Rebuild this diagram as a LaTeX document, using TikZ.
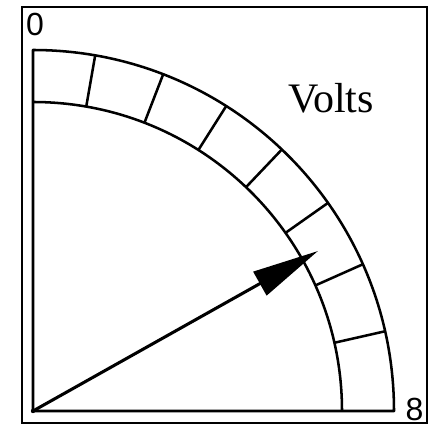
\documentclass[tikz,border=0pt]{standalone}
\usepackage{fontspec}
\setmainfont{Liberation Serif}
\newfontfamily\labsans{Liberation Sans}
\usetikzlibrary{arrows.meta}
\begin{document}
\begin{tikzpicture}[x=0.75pt,y=0.75pt,
  dial/.style={line width=1.9pt, line join=round},
  tickline/.style={line width=1.9pt},
  frameline/.style={line width=1.6pt, draw=black},
  needle/.style={line width=2.3pt, -{Triangle[length=50pt,width=20pt]}},
  scalelabel/.style={font=\labsans\fontsize{24}{24}\selectfont, inner sep=0pt},
  unitlabel/.style={font=\fontsize{31.5}{31.5}\selectfont, inner sep=0pt, anchor=base}]
\useasboundingbox (-33,-15) rectangle (400,411);
\draw[frameline] (-11,-12) rectangle (394,404);
\coordinate (c) at (0,0);
\coordinate (tip) at (285,160);
% dial outline
\draw[dial] (c) -- (361,0) arc (0:90:361) -- cycle;
\draw[dial] (0,309) arc (90:0:309);
% ticks
\foreach \k in {1,...,7}{
  \draw[tickline] ({91.3-11.22*\k}:309) -- ({91.3-11.22*\k}:361);
}
% labels
\node[scalelabel] (zero) at (2,386.5) {0};
\node[scalelabel] (eight) at (381.5,1.5) {8};
\node[unitlabel] (volts) at (298,298) {Volts};
% needle
\draw[needle] (c) -- (tip);
\fill (c) circle (2.2);
\end{tikzpicture}
\end{document}
